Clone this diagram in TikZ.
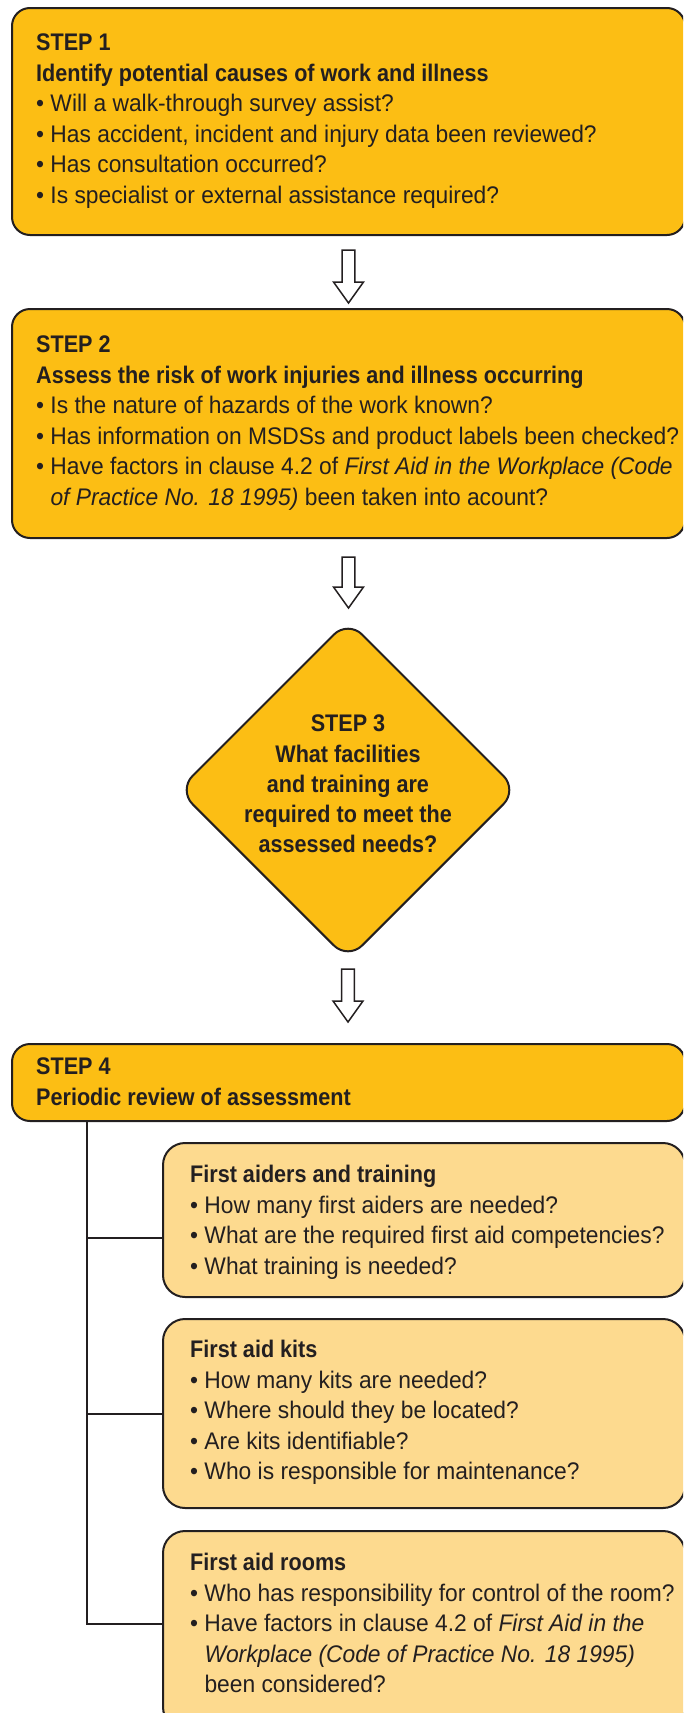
\documentclass[tikz,border=0pt]{standalone}
\usepackage{fontspec}
\setmainfont{Liberation Sans}[
  UprightFeatures={FakeStretch=0.95},
  ItalicFeatures={FakeStretch=0.95},
  BoldFeatures={FakeStretch=0.9},
  BoldItalicFeatures={FakeStretch=0.9}]
\usetikzlibrary{shapes.geometric,calc}
\definecolor{gold}{RGB}{252,190,20}
\definecolor{paleGold}{RGB}{253,218,143}
\definecolor{ink}{RGB}{35,31,32}
\newcommand{\bullt}{\textbullet\ }
\newcommand{\bulind}{\phantom{\textbullet\ }}

\begin{document}
\begin{tikzpicture}[x=1pt,y=1pt,
		every node/.style={inner sep=0pt,text=ink},
		mainbox/.style={draw=ink,line width=2pt,fill=gold,rounded corners=18pt,
			minimum width=673pt,anchor=north west},
		subbox/.style={draw=ink,line width=2pt,fill=paleGold,rounded corners=22pt,
			minimum width=522pt,anchor=north west},
		boxtext/.style={anchor=north west,align=left,font=\fontsize{24}{30.5}\selectfont},
		blockarrow/.style={draw=ink,line width=1.5pt,fill=white,line join=miter,
			to path={let \p1=(\tikztostart), \p2=(\tikztotarget) in
				(\x1-6.3pt,\y1) -- (\x1+6.3pt,\y1) -- (\x1+6.3pt,\y2+21pt) -- (\x1+15pt,\y2+21pt)
				-- (\x1,\y2) -- (\x1-15pt,\y2+21pt) -- (\x1-6.3pt,\y2+21pt) -- cycle}},
		link/.style={draw=ink,line width=2pt}]
		\useasboundingbox (0,0) rectangle (683,-1713);
		\clip (0,0) rectangle (683,-1713);
		% steps 1 and 2
		\node[mainbox,minimum height=227pt] (s1) at (11,-7) {};
		\node[boxtext] (t1) at ([xshift=25pt,yshift=-27pt]s1.north west) {\textbf{STEP 1}\\
			\textbf{Identify potential causes of work and illness}\\
			\bullt Will a walk-through survey assist?\\
			\bullt Has accident, incident and injury data been reviewed?\\
			\bullt Has consultation occurred?\\
			\bullt Is specialist or external assistance required?};
		\node[mainbox,minimum height=229pt] (s2) at (11,-308) {};
		\node[boxtext] (t2) at ([xshift=25pt,yshift=-28pt]s2.north west) {\textbf{STEP 2}\\
			\textbf{Assess the risk of work injuries and illness occurring}\\
			\bullt Is the nature of hazards of the work known?\\
			\bullt Has information on MSDSs and product labels been checked?\\
			\bullt Have factors in clause 4.2 of \textit{First Aid in the Workplace (Code}\\
			\bulind\textit{of Practice No. 18 1995)} been taken into acount?};
		% step 3
		\node[diamond,draw=ink,line width=2pt,fill=gold,rounded corners=20pt,
			minimum width=340pt,minimum height=340pt] (s3) at (348,-790) {};
		\node[align=center,font=\fontsize{24}{30.25}\selectfont\bfseries] (t3)
			at ([yshift=6pt]s3.center) {STEP 3\\What facilities\\and training are\\
			required to meet the\\assessed needs?};
		% step 4 and its branches
		\node[mainbox,minimum height=77pt] (s4) at (11,-1043) {};
		\node[boxtext] (t4) at ([xshift=25pt,yshift=-15pt]s4.north west) {\textbf{STEP 4}\\
			\textbf{Periodic review of assessment}};
		\node[subbox,minimum height=154pt] (k1) at (162,-1142) {};
		\node[boxtext] (u1) at ([xshift=28pt,yshift=-23pt]k1.north west) {\textbf{First aiders and training}\\
			\bullt How many first aiders are needed?\\
			\bullt What are the required first aid competencies?\\
			\bullt What training is needed?};
		\node[subbox,minimum height=189pt] (k2) at (162,-1318) {};
		\node[boxtext] (u2) at ([xshift=28pt,yshift=-22pt]k2.north west) {\textbf{First aid kits}\\
			\bullt How many kits are needed?\\
			\bullt Where should they be located?\\
			\bullt Are kits identifiable?\\
			\bullt Who is responsible for maintenance?};
		\node[subbox,minimum height=198pt] (k3) at (162,-1530) {};
		\node[boxtext] (u3) at ([xshift=28pt,yshift=-23pt]k3.north west) {\textbf{First aid rooms}\\
			\bullt Who has responsibility for control of the room?\\
			\bullt Have factors in clause 4.2 of \textit{First Aid in the}\\
			\bulind\textit{Workplace (Code of Practice No. 18 1995)}\\
			\bulind been considered?};
		% arrows between the steps
		\draw[blockarrow] ([yshift=-14pt]s1.south) to ([yshift=5pt]s2.north);
		\draw[blockarrow] ([yshift=-18pt]s2.south) to ([yshift=11pt]s3.north);
		\draw[blockarrow] ([yshift=-8pt]s3.south) to ([yshift=21pt]s4.north);
		% tree lines
		\coordinate (tr) at ([xshift=76pt]s4.south west);
		\draw[link] (tr) |- ([yshift=-18pt]k1.west);
		\draw[link] (tr) |- (k2.west);
		\draw[link] (tr) |- ([yshift=6pt]k3.west);
	\end{tikzpicture}
\end{document}
